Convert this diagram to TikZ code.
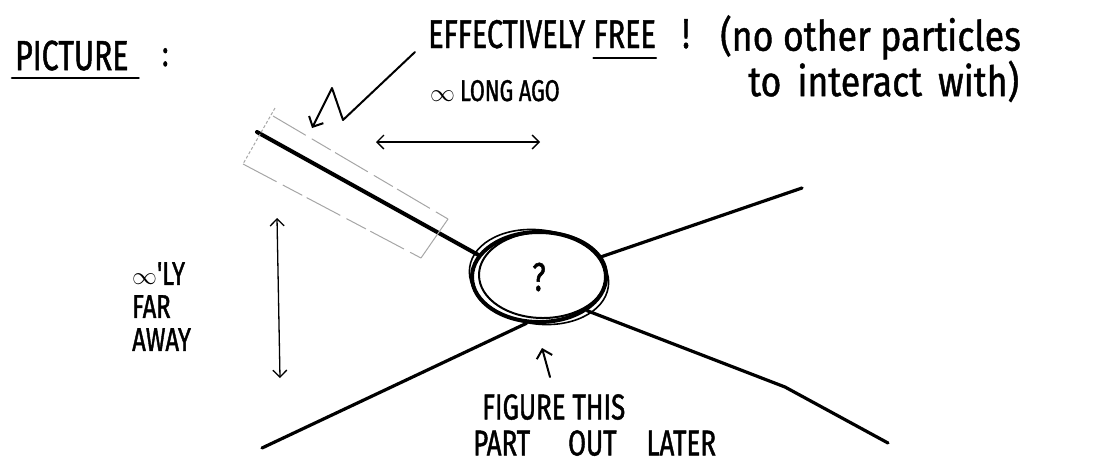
\documentclass[tikz,border=0pt]{standalone}
\usepackage{fontspec}
\usetikzlibrary{positioning,shapes.geometric,calc,arrows.meta}
\newfontfamily\handfont[FakeStretch=0.72, FakeBold=1.2]{Fira Sans}
\newfontfamily\handlower[FakeStretch=0.85, FakeBold=1]{Fira Sans}

\begin{document}
\begin{tikzpicture}[
    x=1pt, y=-1pt,
    pen/.style={line width=2pt, line cap=round, line join=round},
    worldline/.style={line width=3.2pt, line cap=round, line join=round},
    tube/.style={gray!70, line width=1pt, dash pattern=on 38pt off 7pt on 22pt off 5pt},
    blobnode/.style={ellipse, draw, line width=4pt, minimum width=134pt, minimum height=90pt, inner sep=0pt, font=\handfont\fontsize{40}{40}\selectfont},
    capsnote/.style={inner sep=0pt, font=\handfont\fontsize{36}{40}\selectfont, align=left},
    dimarrow/.style={{Straight Barb[length=7pt,width=14pt]}-{Straight Barb[length=7pt,width=14pt]}, line width=1.3pt},
    arrow/.style={-{Straight Barb[length=8pt,width=16pt]}, pen}
]
\useasboundingbox (0,0) rectangle (1102,475);

% Heading
\node[capsnote, font=\handfont\fontsize{42}{42}\selectfont, anchor=base west] (heading) at (15,70) {PICTURE};
\draw[pen, line width=2.6pt] ([xshift=-3pt,yshift=-8pt]heading.base west) -- ([xshift=10pt,yshift=-8pt]heading.base east);
\node[capsnote, anchor=base west] (colon) at (162,66) {:};

% Free particles note
\node[capsnote, font=\handfont\fontsize{40}{40}\selectfont, anchor=base west] (effect) at (428,48) {EFFECTIVELY};
\node[capsnote, font=\handfont\fontsize{40}{40}\selectfont, base right=8pt of effect] (free) {FREE};
\draw[pen] ([yshift=-10pt]free.base west) -- ([yshift=-10pt]free.base east);
\node[capsnote, font=\handfont\fontsize{42}{40}\selectfont, base right=26pt of free] (bang) {!};
\node[capsnote, font=\handlower\fontsize{42}{44}\selectfont, anchor=north west] (nopart) at (720,15) {(no other particles\\\hspace*{28pt}to\hspace{16pt}interact\hspace{16pt}with)};

% Zigzag arrow onto the packet
\coordinate (zzA) at (415,52);
\coordinate (zzB) at (343,120);
\coordinate (zzC) at (332,88);
\coordinate (zzD) at (312,128);
\draw[arrow] (zzA) -- (zzB) -- (zzC) -- (zzD);

% Long ago
\node[capsnote, font=\handfont\fontsize{30}{30}\selectfont, anchor=base west] (longago) at (430,101) {$\infty$\,LONG AGO};
\coordinate (agoL) at (376,142);
\coordinate (agoR) at (540,142);
\draw[dimarrow] (agoL) -- (agoR);

% Interaction region
\node[blobnode] (blob) at (539,277) {?};
\draw[line width=2pt] ([xshift=4pt,yshift=2pt]blob.center) ellipse [x radius=64pt, y radius=43pt];
\draw[line width=1.6pt, rotate around={-8:(blob.center)}] (blob.center) ellipse [x radius=70pt, y radius=47pt];

% World lines
\coordinate (inA) at (257,132);
\coordinate (inB) at (262,448);
\coordinate (outA) at (802,188);
\coordinate (outBk) at (785,387);
\coordinate (outB) at (888,443);
\draw[worldline, line width=4pt] (inA) -- (blob.160);
\draw[worldline] (inB) -- (blob.-105);
\draw[worldline] (blob.18) -- (outA);
\draw[worldline] (blob.-35) -- (outBk) -- (outB);

% Wave packet
\coordinate (tubeA) at (273,116);
\coordinate (tubeB) at (448,219);
\coordinate (tubeC) at (421,258);
\coordinate (tubeD) at (243,164);
\draw[tube] (tubeA) -- (tubeB);
\draw[tube] (tubeD) -- (tubeC);
\draw[tube, dash pattern=] (tubeB) -- (tubeC);
\draw[tube, densely dashed] ([shift={(2,-8)}]tubeA) -- (tubeD);

% Far away
\node[capsnote, font=\handfont\fontsize{33}{33}\selectfont, anchor=north west] (faraway) at (132,262) {$\infty$'LY\\FAR\\AWAY};
\coordinate (farT) at (277,218);
\coordinate (farB) at (280,378);
\draw[dimarrow] (farT) -- (farB);

% Later note
\node[capsnote, font=\handfont\fontsize{36}{36}\selectfont, anchor=north west] (later) at (473,394) {\hspace*{9pt}FIGURE THIS\\PART\hspace{38pt}OUT\hspace{30pt}LATER};
\coordinate (upfoot) at (550,377);
\draw[arrow] (upfoot) -- ([xshift=3pt,yshift=-24pt]blob.south);

\end{tikzpicture}
\end{document}
